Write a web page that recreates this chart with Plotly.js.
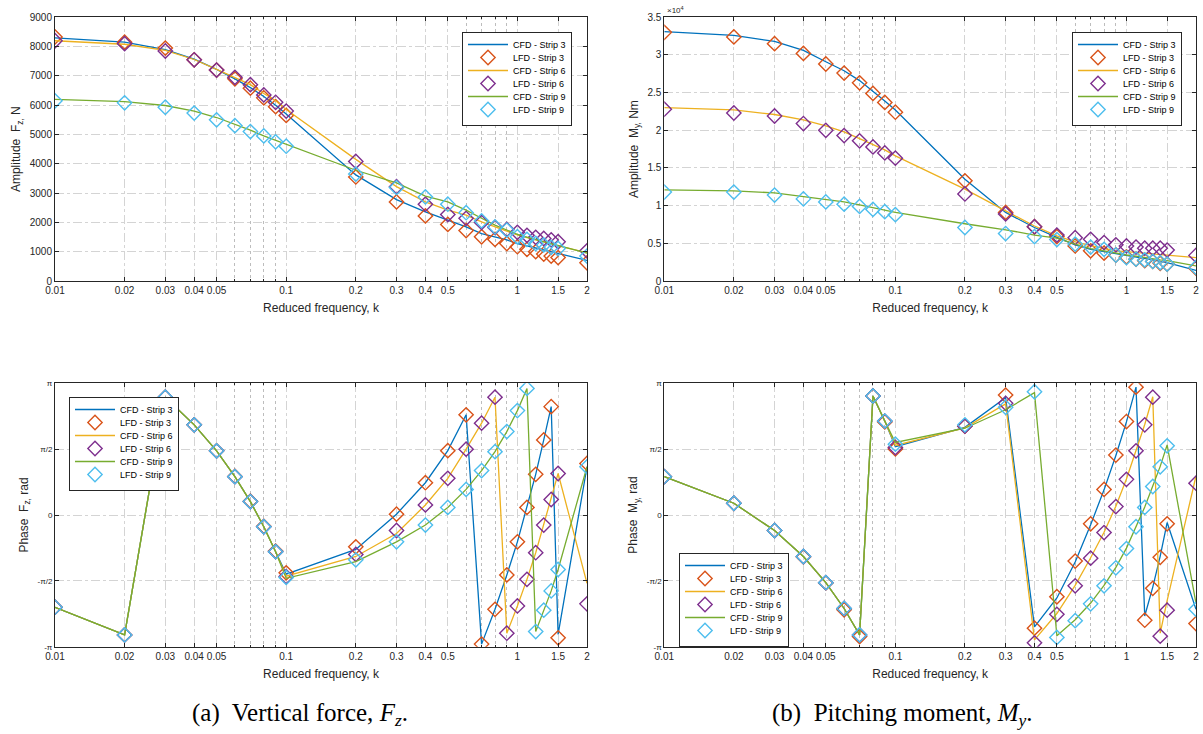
<!DOCTYPE html>
<html>
<head>
<meta charset="utf-8">
<script src="https://cdn.plot.ly/plotly-3.0.1.min.js"></script>
<style>html,body{margin:0;padding:0;background:#fff;}#chart{width:1203px;height:734px;}</style>
</head>
<body>
<div id="chart"></div>
<script>
// Reduced frequency k
const k = [0.01,0.02,0.03,0.04,0.05,0.06,0.07,0.08,0.09,0.1,0.2,0.3,0.4,0.5,0.6,0.7,0.8,0.9,1.0,1.1,1.2,1.3,1.4,1.5,2.0];

// Amplitude Fz, N
const ampFz_cfd3 = [8300,8150,7900,7570,7220,6900,6600,6300,6000,5700,3620,2780,2360,2080,1850,1620,1510,1400,1280,1200,1120,1050,980,920,700];
const ampFz_lfd3 = [8330,8150,7950,7550,7200,6900,6580,6250,5950,5650,3550,2700,2220,1930,1720,1510,1420,1280,1170,1080,1000,920,850,800,620];
const ampFz_cfd6 = [8200,8080,7870,7560,7220,6950,6700,6400,6150,5850,4150,3220,2700,2420,2250,2020,1850,1680,1570,1480,1400,1330,1260,1200,970];
const ampFz_lfd6 = [8200,8100,7850,7550,7200,6950,6700,6350,6100,5800,4080,3220,2620,2270,2140,2000,1830,1760,1660,1560,1490,1450,1400,1340,1030];
const ampFz_cfd9 = [6200,6120,5990,5800,5580,5350,5150,4950,4800,4650,3780,3350,2900,2700,2420,2140,1910,1740,1590,1500,1420,1350,1280,1220,950];
const ampFz_lfd9 = [6150,6080,5930,5730,5500,5300,5100,4950,4750,4600,3650,3190,2870,2620,2330,2050,1850,1740,1510,1420,1280,1230,1150,1110,850];

// Amplitude My, Nm (x10^4)
const ampMy_cfd3 = [3.31,3.26,3.18,3.06,2.91,2.79,2.66,2.52,2.39,2.27,1.35,0.91,0.71,0.58,0.48,0.42,0.39,0.37,0.345,0.32,0.30,0.28,0.26,0.245,0.14];
const ampMy_lfd3 = [3.30,3.24,3.15,3.02,2.88,2.76,2.63,2.49,2.37,2.24,1.33,0.91,0.72,0.59,0.465,0.40,0.37,0.345,0.32,0.29,0.27,0.26,0.235,0.225,0.17];
const ampMy_cfd6 = [2.30,2.27,2.21,2.14,2.06,1.98,1.89,1.81,1.74,1.66,1.22,0.93,0.73,0.60,0.52,0.47,0.43,0.40,0.39,0.38,0.37,0.36,0.35,0.345,0.31];
const ampMy_lfd6 = [2.28,2.23,2.19,2.09,2.00,1.93,1.86,1.78,1.70,1.63,1.155,0.89,0.72,0.61,0.575,0.553,0.51,0.48,0.465,0.45,0.435,0.435,0.435,0.41,0.34];
const ampMy_cfd9 = [1.21,1.195,1.17,1.12,1.08,1.05,1.01,0.97,0.94,0.91,0.76,0.68,0.61,0.57,0.49,0.43,0.40,0.37,0.345,0.33,0.31,0.295,0.28,0.27,0.20];
const ampMy_lfd9 = [1.18,1.18,1.14,1.09,1.05,1.02,0.99,0.95,0.92,0.88,0.71,0.63,0.59,0.55,0.49,0.45,0.42,0.345,0.31,0.29,0.28,0.26,0.245,0.225,0.18];

// Phase Fz, rad
const phFz_cfd3 = [-2.20,-2.86,2.81,2.15,1.53,0.915,0.32,-0.28,-0.875,-1.41,-0.82,0.02,0.77,1.535,2.39,-3.08,-2.25,-1.43,-0.64,0.18,0.97,1.79,2.585,-2.85,1.15];
const phFz_lfd3 = [-2.20,-2.86,2.81,2.15,1.53,0.92,0.33,-0.27,-0.86,-1.38,-0.76,0.02,0.77,1.535,2.39,-3.08,-2.25,-1.43,-0.64,0.18,0.97,1.79,2.585,-2.93,1.23];
const phFz_cfd6 = [-2.20,-2.86,2.81,2.15,1.53,0.915,0.32,-0.28,-0.875,-1.46,-0.99,-0.44,0.24,0.875,1.57,2.19,2.81,-2.82,-2.17,-1.535,-0.90,-0.24,0.37,0.99,-1.63];
const phFz_lfd6 = [-2.20,-2.86,2.81,2.15,1.53,0.915,0.32,-0.28,-0.875,-1.47,-0.94,-0.37,0.24,0.875,1.57,2.19,2.81,-2.82,-2.17,-1.535,-0.90,-0.24,0.37,0.99,-2.12];
const phFz_cfd9 = [-2.20,-2.86,2.81,2.15,1.53,0.915,0.32,-0.28,-0.875,-1.51,-1.11,-0.64,-0.24,0.18,0.61,1.06,1.51,1.99,2.49,3.02,-2.78,-2.27,-1.81,-1.30,1.15];
const phFz_lfd9 = [-2.20,-2.86,2.81,2.15,1.53,0.915,0.32,-0.28,-0.875,-1.49,-1.07,-0.64,-0.24,0.18,0.61,1.06,1.51,1.99,2.49,3.02,-2.78,-2.27,-1.81,-1.30,1.15];

// Phase My, rad
const phMy_cfd3 = [0.915,0.28,-0.37,-0.99,-1.615,-2.23,-2.86,2.84,2.24,1.63,2.09,2.80,-2.67,-1.98,-1.12,-0.23,0.60,1.42,2.22,3.05,-2.41,-1.72,-0.98,-0.18,-2.25];
const phMy_lfd3 = [0.915,0.28,-0.37,-1.00,-1.62,-2.26,-2.90,2.84,2.22,1.575,2.12,2.86,-2.70,-1.95,-1.10,-0.21,0.61,1.43,2.23,3.05,-2.51,-1.75,-1.01,-0.21,-2.59];
const phMy_cfd6 = [0.915,0.28,-0.37,-0.99,-1.615,-2.23,-2.86,2.84,2.24,1.66,2.08,2.65,-2.98,-2.35,-1.68,-1.02,-0.41,0.21,0.86,1.54,2.16,2.82,-2.82,-2.04,0.93];
const phMy_lfd6 = [0.915,0.28,-0.37,-0.99,-1.615,-2.23,-2.86,2.84,2.24,1.61,2.12,2.665,-3.05,-2.37,-1.69,-1.03,-0.42,0.20,0.85,1.53,2.15,2.81,-2.89,-2.27,0.76];
const phMy_cfd9 = [0.915,0.28,-0.37,-0.99,-1.615,-2.23,-2.86,2.84,2.24,1.73,2.07,2.51,2.92,-2.88,-2.50,-2.10,-1.68,-1.25,-0.79,-0.27,0.19,0.69,1.16,1.67,-2.11];
const phMy_lfd9 = [0.915,0.28,-0.37,-0.99,-1.615,-2.23,-2.86,2.84,2.24,1.69,2.15,2.57,2.94,-2.92,-2.52,-2.12,-1.69,-1.26,-0.80,-0.28,0.18,0.68,1.15,1.65,-2.25];

const seriesNames = ['CFD - Strip 3','LFD - Strip 3','CFD - Strip 6','LFD - Strip 6','CFD - Strip 9','LFD - Strip 9'];
const xTickVals = [0.01,0.02,0.03,0.04,0.05,0.1,0.2,0.3,0.4,0.5,1,1.5,2];
const xTickText = ['0.01','0.02','0.03','0.04','0.05','0.1','0.2','0.3','0.4','0.5','1','1.5','2'];
const xMinorVals = [0.06,0.07,0.08,0.09,0.6,0.7,0.8,0.9];
const phaseTickVals = [-Math.PI,-Math.PI/2,0,Math.PI/2,Math.PI];
const phaseTickText = ['-π','-π/2','0','π/2','π'];
const ampMyTickVals = [0,0.5,1,1.5,2,2.5,3,3.5];
const ampMyTickText = ['0','0.5','1','1.5','2','2.5','3','3.5'];

const colors = ['#0072BD','#D95319','#EDB120','#7E2F8E','#77AC30','#4DBEEE'];
const FONT = 'Liberation Sans, Arial, sans-serif';

function makeTraces(arrs, xa, ya, leg) {
  return arrs.map((y, i) => {
    const isLine = (i % 2 === 0);
    const t = {
      x: k, y: y, name: seriesNames[i], xaxis: xa, yaxis: ya, legend: leg,
      type: 'scatter', cliponaxis: true
    };
    if (isLine) {
      t.mode = 'lines';
      t.line = {color: colors[i], width: 1.3};
    } else {
      t.mode = 'markers';
      t.marker = {symbol: 'diamond-open', size: 11, color: colors[i], line: {width: 1.4, color: colors[i]}};
    }
    return t;
  });
}

const data = [].concat(
  makeTraces([ampFz_cfd3,ampFz_lfd3,ampFz_cfd6,ampFz_lfd6,ampFz_cfd9,ampFz_lfd9],'x','y','legend'),
  makeTraces([ampMy_cfd3,ampMy_lfd3,ampMy_cfd6,ampMy_lfd6,ampMy_cfd9,ampMy_lfd9],'x2','y2','legend2'),
  makeTraces([phFz_cfd3,phFz_lfd3,phFz_cfd6,phFz_lfd6,phFz_cfd9,phFz_lfd9],'x3','y3','legend3'),
  makeTraces([phMy_cfd3,phMy_lfd3,phMy_cfd6,phMy_lfd6,phMy_cfd9,phMy_lfd9],'x4','y4','legend4')
);

const W = 1203, H = 734;
const common = {
  showline: true, linecolor: '#262626', linewidth: 1, mirror: 'ticks',
  ticks: 'inside', ticklen: 4, tickcolor: '#262626',
  showgrid: true, gridcolor: '#d4d4d4', griddash: 'dashdot', gridwidth: 1,
  zeroline: false, tickfont: {family: FONT, size: 10, color: '#262626'}
};
function xax(dom, anchor) {
  return Object.assign({}, common, {
    type: 'log', range: [Math.log10(0.01), Math.log10(2)], domain: dom, anchor: anchor,
    tickmode: 'array', tickvals: xTickVals, ticktext: xTickText,
    minor: {tickmode: 'array', tickvals: xMinorVals, showgrid: true, griddash: 'dot', gridcolor: '#bdbdbd', ticks: 'inside', ticklen: 2, tickcolor: '#262626'},
    title: {text: 'Reduced frequency, k', font: {family: FONT, size: 12, color: '#262626'}, standoff: 8}
  });
}
function yax(dom, anchor, extra) {
  return Object.assign({}, common, {domain: dom, anchor: anchor}, extra);
}
const xL = [55/W, 587/W], xR = [664.3/W, 1196/W];
const yT = [1-281/H, 1-17.3/H], yB = [1-646.7/H, 1-383.3/H];
const yTitleFont = {family: FONT, size: 12, color: '#262626'};

function legendAt(x, y) {
  return {x: x/W, y: 1-y/H, xanchor: 'left', yanchor: 'top', bgcolor: '#fff', bordercolor: '#262626', borderwidth: 1,
    font: {family: FONT, size: 9, color: '#000'}, tracegroupgap: 0, itemwidth: 40};
}

const layout = {
  width: W, height: H, margin: {l: 0, r: 0, t: 0, b: 0},
  paper_bgcolor: '#fff', plot_bgcolor: '#fff', showlegend: true,
  xaxis: xax(xL, 'y'),
  yaxis: yax(yT, 'x', {range: [0, 9000], dtick: 1000, tick0: 0, title: {text: 'Amplitude  F<sub>z,</sub> N', font: yTitleFont, standoff: 6}}),
  xaxis2: xax(xR, 'y2'),
  yaxis2: yax(yT, 'x2', {range: [0, 3.5], tickmode: 'array', tickvals: ampMyTickVals, ticktext: ampMyTickText, title: {text: 'Amplitude  M<sub>y,</sub> Nm', font: yTitleFont, standoff: 6}}),
  xaxis3: xax(xL, 'y3'),
  yaxis3: yax(yB, 'x3', {range: [-Math.PI, Math.PI], tickmode: 'array', tickvals: phaseTickVals, ticktext: phaseTickText, tickfont: {family: FONT, size: 8, color: '#262626'}, title: {text: 'Phase  F<sub>z,</sub> rad', font: yTitleFont, standoff: 6}}),
  xaxis4: xax(xR, 'y4'),
  yaxis4: yax(yB, 'x4', {range: [-Math.PI, Math.PI], tickmode: 'array', tickvals: phaseTickVals, ticktext: phaseTickText, tickfont: {family: FONT, size: 8, color: '#262626'}, title: {text: 'Phase  M<sub>y,</sub> rad', font: yTitleFont, standoff: 6}}),
  legend: legendAt(462, 32),
  legend2: legendAt(1072, 32),
  legend3: legendAt(69, 397),
  legend4: legendAt(679, 553),
  annotations: [
    {xref: 'paper', yref: 'paper', x: 665/W, y: 1-10/H, xanchor: 'left', yanchor: 'middle', showarrow: false,
     text: '×10<sup>4</sup>', font: {family: FONT, size: 8, color: '#262626'}},
    {xref: 'paper', yref: 'paper', x: 300/W, y: 1-714/H, xanchor: 'center', yanchor: 'middle', showarrow: false,
     text: '(a)  Vertical force, <i>F<sub>z</sub></i>.', font: {family: 'Liberation Serif, Times New Roman, serif', size: 25, color: '#000'}},
    {xref: 'paper', yref: 'paper', x: 902/W, y: 1-714/H, xanchor: 'center', yanchor: 'middle', showarrow: false,
     text: '(b)  Pitching moment, <i>M<sub>y</sub></i>.', font: {family: 'Liberation Serif, Times New Roman, serif', size: 25, color: '#000'}}
  ]
};

function parseTr(el) {
  const m = /translate\(\s*([-\d.e]+)[ ,]+([-\d.e]+)/.exec(el.getAttribute('transform') || '');
  return m ? [parseFloat(m[1]), parseFloat(m[2])] : [0, 0];
}
// Make legend rows compact (MATLAB-style row spacing)
function compactLegends(gd) {
  const ROW = 13;
  gd.querySelectorAll('g.legend, g.legend2, g.legend3, g.legend4').forEach(leg => {
    const items = leg.querySelectorAll('g.traces');
    if (items.length < 2) return;
    const p0 = parseTr(items[0]);
    const p1 = parseTr(items[1]);
    const oldRow = p1[1] - p0[1];
    if (!(oldRow > ROW)) return;
    const shift = (oldRow - ROW) / 2;
    items.forEach((it, i) => {
      const p = parseTr(it);
      it.setAttribute('transform', 'translate(' + p[0] + ',' + (p0[1] - shift + i * ROW) + ')');
    });
    const bg = leg.querySelector('rect.bg');
    if (bg) {
      const h = parseFloat(bg.getAttribute('height'));
      bg.setAttribute('height', h - items.length * (oldRow - ROW) + 2 * shift - 2);
    }
  });
}

Plotly.newPlot('chart', data, layout, {staticPlot: true, displayModeBar: false}).then(compactLegends);
</script>
</body>
</html>
